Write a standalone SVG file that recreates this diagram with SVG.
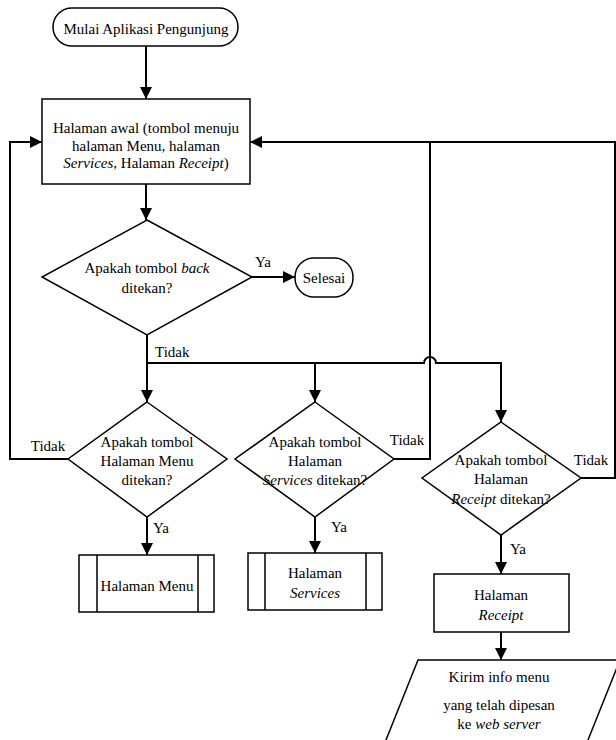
<svg xmlns="http://www.w3.org/2000/svg" width="616" height="740" viewBox="0 0 616 740" font-family="'Liberation Serif', 'Times New Roman', 'DejaVu Serif', serif">
<style>
.s{fill:#fff;stroke:#000;stroke-width:1.5}
.c{fill:none;stroke:#000;stroke-width:2}
text{font-family:'Liberation Serif','Times New Roman','DejaVu Serif',serif;font-size:15px;fill:#000;text-anchor:middle}
.l{text-anchor:start}
</style>
<defs>
<marker id="a" viewBox="0 0 12 12" refX="12" refY="6" markerWidth="12" markerHeight="12" markerUnits="userSpaceOnUse" orient="auto">
<path d="M0,0 L12,6 L0,12 Z" fill="#000"/>
</marker>
</defs>
<g id="connectors">
<path class="c" d="M146,46 V99" marker-end="url(#a)"/>
<path class="c" d="M146,184 V220" marker-end="url(#a)"/>
<path class="c" d="M252,277 H295" marker-end="url(#a)"/>
<path class="c" d="M147,335 V402" marker-end="url(#a)"/>
<path class="c" d="M147,363 H424 A6,6 0 0 1 436,363 H501 V422" marker-end="url(#a)"/>
<path class="c" d="M315,363 V402" marker-end="url(#a)"/>
<path class="c" d="M68,459 H10 V142 H42" marker-end="url(#a)"/>
<path class="c" d="M394,459 H430 V142"/>
<path class="c" d="M581,478 H615 V142 H250" marker-end="url(#a)"/>
<path class="c" d="M147,517 V555" marker-end="url(#a)"/>
<path class="c" d="M315,517 V553" marker-end="url(#a)"/>
<path class="c" d="M501,535 V574" marker-end="url(#a)"/>
<path class="c" d="M501,632 V660" marker-end="url(#a)"/>
<text x="263" y="267">Ya</text>
<text class="l" x="155" y="357">Tidak</text>
<text x="48" y="451">Tidak</text>
<text x="407" y="445">Tidak</text>
<text x="591" y="465">Tidak</text>
<text x="161" y="533">Ya</text>
<text x="339" y="532">Ya</text>
<text x="518" y="554">Ya</text>
</g>
<g id="start">
<rect class="s" x="53" y="8" width="185" height="38" rx="19"/>
<text x="146" y="34">Mulai Aplikasi  Pengunjung</text>
</g>
<g id="home">
<rect class="s" x="42" y="99" width="208" height="85"/>
<text x="146" y="133">Halaman awal (tombol menuju</text>
<text x="146" y="151">halaman Menu, halaman</text>
<text x="146" y="168"><tspan font-style="italic">Services</tspan>, Halaman <tspan font-style="italic">Receipt</tspan>)</text>
</g>
<g id="back">
<path class="s" d="M147,220 L252,277 L147,335 L42,277 Z"/>
<text x="147" y="273">Apakah tombol <tspan font-style="italic">back</tspan></text>
<text x="147" y="293">ditekan?</text>
</g>
<g id="end">
<rect class="s" x="295" y="258" width="58" height="39" rx="19"/>
<text x="324" y="283">Selesai</text>
</g>
<g id="qmenu">
<path class="s" d="M147,402 L227,459 L147,517 L68,459 Z"/>
<text x="147" y="447">Apakah tombol</text>
<text x="147" y="466">Halaman Menu</text>
<text x="147" y="485">ditekan?</text>
</g>
<g id="qservices">
<path class="s" d="M315,402 L394,459 L315,517 L235,459 Z"/>
<text x="315" y="447">Apakah tombol</text>
<text x="315" y="466">Halaman</text>
<text x="315" y="485"><tspan font-style="italic">Services</tspan> ditekan?</text>
</g>
<g id="qreceipt">
<path class="s" d="M501,422 L581,478 L501,535 L422,478 Z"/>
<text x="501" y="465">Apakah tombol</text>
<text x="501" y="484">Halaman</text>
<text x="501" y="504"><tspan font-style="italic">Receipt</tspan> ditekan?</text>
</g>
<g id="menu">
<rect class="s" x="79" y="555" width="135" height="57"/>
<path class="s" d="M97,555 V612 M198,555 V612"/>
<text x="147" y="591">Halaman Menu</text>
</g>
<g id="services">
<rect class="s" x="248" y="553" width="134" height="57"/>
<path class="s" d="M265,553 V610 M366,553 V610"/>
<text x="315" y="578">Halaman</text>
<text x="315" y="598" font-style="italic">Services</text>
</g>
<g id="receipt">
<rect class="s" x="434" y="574" width="135" height="58"/>
<text x="501" y="600">Halaman</text>
<text x="501" y="620" font-style="italic">Receipt</text>
</g>
<g id="send">
<path class="s" d="M418,660 L620,660 L586,745 L384,745 Z"/>
<text x="499" y="682">Kirim info menu</text>
<text x="499" y="710">yang telah dipesan</text>
<text x="499" y="729">ke <tspan font-style="italic">web server</tspan></text>
</g>
</svg>
